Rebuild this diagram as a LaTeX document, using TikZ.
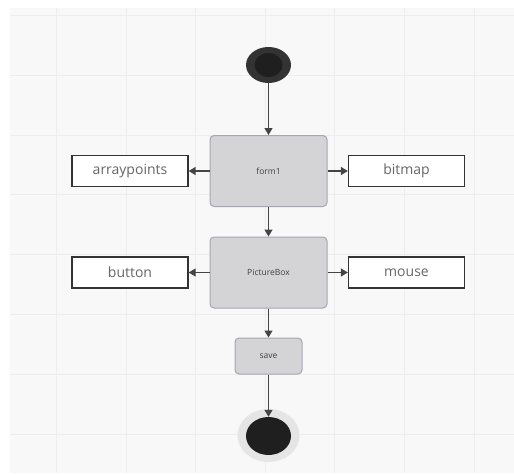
\documentclass[tikz,border=0pt]{standalone}
\usepackage{fontspec}
\setmainfont{Open Sans}
\usetikzlibrary{
    arrows.meta,
    shapes.geometric
}
\definecolor{canvas}{HTML}{F8F8F8}
\definecolor{gridline}{HTML}{EDEDED}
\definecolor{ink}{HTML}{444444}
\definecolor{statefill}{HTML}{D4D4D6}
\definecolor{stateedge}{HTML}{A6A6B2}
\tikzset{
    flow/.style={-{Triangle[length=7pt,width=8pt]}, line width=1.4pt, ink},
    state/.style={rectangle, rounded corners=4pt, fill=statefill, draw=stateedge,
        line width=1pt, font=\fontsize{8.5}{10}\selectfont, text=black!75},
    item/.style={rectangle, fill=white, draw=black!80, line width=1.3pt,
        minimum width=116pt, minimum height=31pt,
        font=\fontsize{14}{16}\selectfont, text=black!60},
    pseudo/.style={ellipse, inner sep=0pt}
}

\begin{document}
\begin{tikzpicture}[x=1pt, y=-1pt]
    \useasboundingbox (0,0) rectangle (514,474);
    % canvas with grid
    \fill[canvas] (10,8) rectangle (514,473);
    \foreach \gx in {56,126,195,265,334,404,474}
        \draw[gridline] (\gx,8) -- (\gx,473);
    \foreach \gy in {15,75,135,194,254,314,374,434}
        \draw[gridline] (10,\gy) -- (514,\gy);

    % start state
    \node[pseudo, fill=black!80, minimum width=45pt, minimum height=36pt] (start) at (268.5,65) {};
    \fill[black!88] (start.center) ellipse (14 and 12);

    % states
    \node[state, minimum width=117pt, minimum height=71pt] (form1) at (268.5,171) {form1};
    \node[state, minimum width=117pt, minimum height=71pt] (picbox) at (268.5,272.5) {PictureBox};
    \node[state, minimum width=67pt, minimum height=36pt] (save) at (268.5,356) {save};

    % objects
    \node[item] (arraypoints) at (130,171) {arraypoints};
    \node[item] (bitmap) at (406.5,171) {bitmap};
    \node[item] (button) at (130,272.5) {button};
    \node[item] (mouse) at (406.5,272.5) {mouse};

    % end state
    \fill[black!10] (268.5,435.5) ellipse (31 and 26.5);
    \node[pseudo, fill=black!88, minimum width=45pt, minimum height=38pt] (end) at (268.5,436) {};

    \draw[flow] (start) -- (form1);
    \draw[flow] (form1) -- (arraypoints);
    \draw[flow] (form1) -- (bitmap);
    \draw[flow] (form1) -- (picbox);
    \draw[flow] (picbox) -- (button);
    \draw[flow] (picbox) -- (mouse);
    \draw[flow] (picbox) -- (save);
    \draw[flow] (save) -- (end);
\end{tikzpicture}
\end{document}
